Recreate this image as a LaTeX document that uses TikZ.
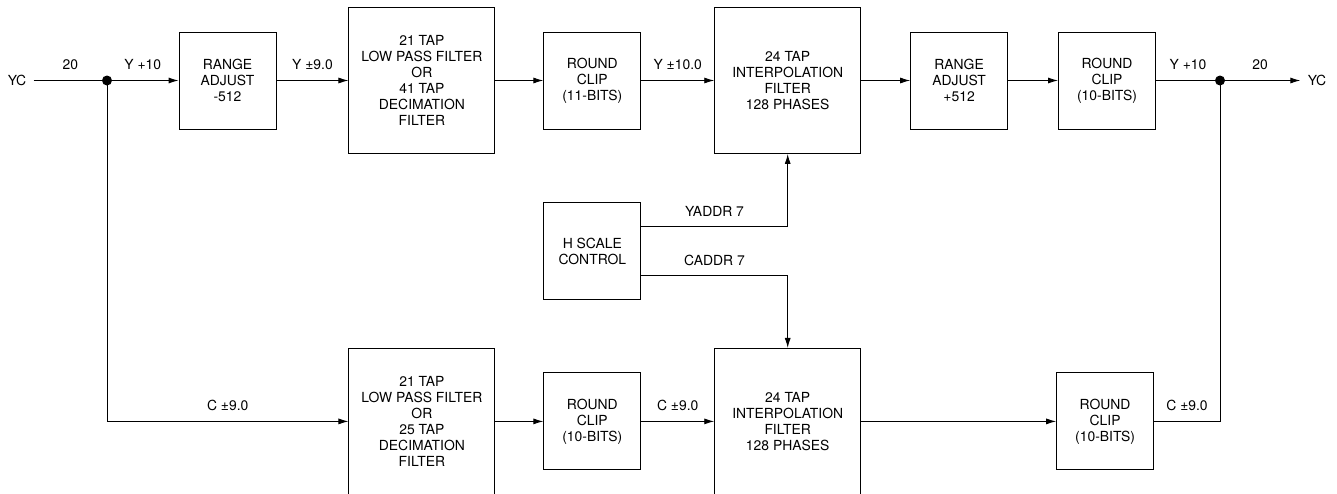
\documentclass[tikz,border=0pt]{standalone}
\usepackage{fontspec}
\setmainfont{TeX Gyre Heros}
\usetikzlibrary{arrows.meta,positioning}

\begin{document}
\begin{tikzpicture}[
    x=1pt, y=1pt,
    font=\fontsize{13.9}{16}\selectfont,
    line width=0.9pt,
    block/.style={
        draw,
        align=center,
        minimum width=97pt,
        minimum height=97pt,
        inner sep=2pt
    },
    filt/.style={
        block,
        minimum width=146pt,
        minimum height=146pt
    },
    port/.style={
        inner xsep=7pt,
        inner ysep=2pt
    },
    arrow/.style={
        -{Latex[length=10pt,width=6pt]}
    },
    sig/.style={
        above=10pt,
        inner sep=0pt
    }
]
\useasboundingbox (0,0) rectangle (1337,-493);

% Luma path
\node[port] (ycin) at (17,-80.5) {YC};
\coordinate (splitin) at (107,-80.5);
\node[block] (adjin) at (227.5,-80.5) {RANGE\\ADJUST\\-512};
\node[filt, right=72pt of adjin] (lpfy)
{21 TAP\\LOW PASS FILTER\\OR\\41 TAP\\DECIMATION\\FILTER};
\node[block, right=48pt of lpfy] (clipy) {ROUND\\CLIP\\(11-BITS)};
\node[filt, right=73pt of clipy] (interpy)
{24 TAP\\INTERPOLATION\\FILTER\\128 PHASES};
\node[block, right=49pt of interpy] (adjout) {RANGE\\ADJUST\\+512};
\node[block, right=50pt of adjout] (clipyout) {ROUND\\CLIP\\(10-BITS)};
\coordinate (splitout) at (1220,-80.5);
\node[port] (ycout) at (1317,-80.5) {YC};

% Scale control
\node[block, below=73pt of clipy] (hscale) {H SCALE\\CONTROL};

% Chroma path
\node[filt, below=194pt of lpfy] (lpfc)
{21 TAP\\LOW PASS FILTER\\OR\\25 TAP\\DECIMATION\\FILTER};
\node[block, right=48pt of lpfc] (clipc) {ROUND\\CLIP\\(10-BITS)};
\node[filt, right=73pt of clipc] (interpc)
{24 TAP\\INTERPOLATION\\FILTER\\128 PHASES};
\node[block, right=195pt of interpc] (clipcout) {ROUND\\CLIP\\(10-BITS)};

% Connections, luma
\draw (ycin) -- node[sig] {20} (splitin);
\draw[arrow] (splitin) -- node[sig] {Y +10} (adjin);
\draw[arrow] (adjin) -- node[sig] {Y ±9.0} (lpfy);
\draw[arrow] (lpfy) -- (clipy);
\draw[arrow] (clipy) -- node[sig] {Y ±10.0} (interpy);
\draw[arrow] (interpy) -- (adjout);
\draw[arrow] (adjout) -- (clipyout);
\draw (clipyout) -- node[sig] {Y +10} (splitout);
\draw[arrow] (splitout) -- node[sig] {20} (ycout);

% Connections, chroma
\draw[arrow] (splitin) |- node[sig, pos=0.75] {C ±9.0} (lpfc);
\draw[arrow] (lpfc) -- (clipc);
\draw[arrow] (clipc) -- node[sig] {C ±9.0} (interpc);
\draw[arrow] (interpc) -- (clipcout);
\draw (clipcout) -| node[sig, pos=0.25] {C ±9.0} (splitout);

% Phase addresses
\draw[arrow] ([yshift=24.5pt]hscale.east) -| node[sig, pos=0.25] {YADDR 7} (interpy);
\draw[arrow] ([yshift=-24.5pt]hscale.east) -| node[sig, pos=0.25] {CADDR 7} (interpc);

% Junction dots
\fill (splitin) circle (5pt);
\fill (splitout) circle (5pt);

\end{tikzpicture}
\end{document}
